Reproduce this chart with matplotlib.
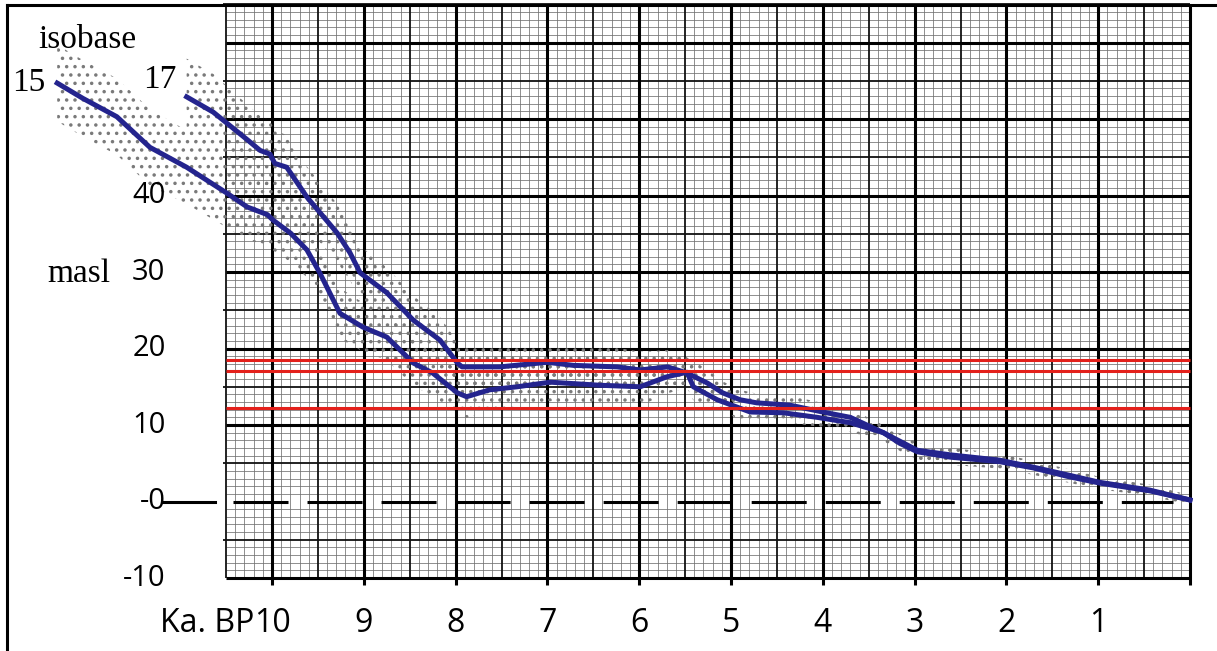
import numpy as np
import matplotlib
matplotlib.use("Agg")
import matplotlib.pyplot as plt
from matplotlib.lines import Line2D

plt.rcParams['lines.scale_dashes'] = False
plt.rcParams['hatch.linewidth'] = 1.3

# ==========================
# data (ka BP, metres above sea level)
# ==========================
age_15 = [12.34, 12.06, 11.69, 11.33, 10.93, 10.49, 10.27, 10.05, 9.99, 9.80,
          9.62, 9.48, 9.26, 9.01, 8.75, 8.46, 8.25, 7.98, 7.88, 7.63,
          7.33, 6.97, 6.43, 5.99, 5.70, 5.48, 5.41, 5.15, 4.79, 4.43,
          4.06, 3.70, 3.34, 3.16, 2.97, 2.61, 2.07, 1.71, 1.34, 0.98,
          0.44, 0.0]
masl_15 = [54.7, 52.7, 50.3, 46.3, 43.7, 40.3, 38.5, 37.5, 36.8, 35.1,
           32.9, 29.9, 24.6, 22.8, 21.5, 18.1, 16.8, 14.2, 13.7, 14.6,
           15.0, 15.6, 15.2, 15.0, 16.3, 16.9, 15.0, 13.3, 11.7, 11.6,
           11.0, 10.3, 9.0, 7.6, 6.5, 5.8, 5.2, 4.4, 3.3, 2.4,
           1.4, 0.2]
err_15 = [5.0, 5.0, 5.0, 5.0, 4.8, 4.5, 4.3, 4.0, 4.0, 3.8,
          3.6, 3.5, 3.3, 3.2, 3.0, 3.0, 3.0, 2.8, 2.8, 2.6,
          2.5, 2.5, 2.5, 2.5, 2.2, 2.0, 1.8, 1.5, 1.3, 1.2,
          1.2, 1.2, 1.1, 1.0, 1.0, 1.0, 0.9, 0.9, 0.8, 0.8,
          0.7, 0.6]

age_17 = [10.93, 10.64, 10.27, 10.13, 10.02, 9.97, 9.84, 9.62, 9.29, 9.15,
          9.04, 8.75, 8.46, 8.17, 7.98, 7.93, 7.52, 7.00, 6.72, 6.24,
          5.99, 5.69, 5.48, 5.26, 5.09, 4.90, 4.72, 4.36, 4.00, 3.70,
          3.34, 2.97, 2.61, 2.07, 1.71, 1.34, 0.98, 0.44, 0.0]
masl_17 = [52.9, 50.9, 47.3, 45.9, 45.4, 44.2, 43.7, 39.8, 35.1, 32.5,
           29.9, 27.3, 23.7, 21.1, 18.1, 17.6, 17.6, 18.2, 17.8, 17.6,
           17.2, 17.6, 16.8, 15.5, 14.2, 13.3, 12.9, 12.6, 11.7, 11.0,
           9.0, 6.7, 6.1, 5.4, 4.5, 3.5, 2.5, 1.5, 0.2]
err_17 = [5.0, 5.0, 4.6, 4.5, 4.4, 4.3, 4.2, 4.0, 3.8, 3.6,
          3.5, 3.3, 3.2, 3.0, 2.8, 2.6, 2.5, 2.5, 2.5, 2.5,
          2.4, 2.2, 2.0, 1.8, 1.5, 1.3, 1.2, 1.2, 1.2, 1.1,
          1.0, 1.0, 0.9, 0.9, 0.8, 0.8, 0.7, 0.7, 0.6]

red_levels = [18.5, 17.1, 12.2]

x_ticks = [10, 9, 8, 7, 6, 5, 4, 3, 2, 1]
y_ticks = [40, 30, 20, 10, 0, -10]
y_labels = ['40', '30', '20', '10', '-0', '-10']

# ==========================
# figure
# ==========================
fig = plt.figure(figsize=(12.17, 6.51), dpi=100)
ax = fig.add_axes([0, 0, 1, 1])
ax.set_xlim(12.963, -0.294)
ax.set_ylim(-19.54, 65.56)
ax.axis('off')

sans = 'Open Sans'
serif = 'Liberation Serif'

# graph paper: 0.1 ka x 1 m cells, heavier every 0.5 ka / 5 m and 1 ka / 10 m
# (the 0 m line is left out: the dashed zero level sits there)
gx_min, gx_max = 0.0, 10.5
gy_min, gy_max = -10, 65
minor_x = [k / 10 for k in range(0, 106) if k % 5 != 0]
mid_x = [k / 10 for k in range(0, 106) if k % 5 == 0 and k % 10 != 0]
major_x = [k / 10 for k in range(0, 106) if k % 10 == 0]
minor_y = [m for m in range(gy_min, gy_max + 1) if m % 5 != 0]
mid_y = [m for m in range(gy_min, gy_max + 1) if m % 5 == 0 and m % 10 != 0]
major_y = [m for m in range(gy_min, gy_max + 1) if m % 10 == 0 and m != 0]

ax.vlines(minor_x, gy_min, gy_max, color='#707070', lw=0.55, zorder=1)
ax.hlines(minor_y, gx_min, gx_max, color='#707070', lw=0.55, zorder=1)
ax.vlines(mid_x, gy_min, gy_max, color='#111111', lw=1.3, zorder=1.2)
ax.hlines(mid_y, gx_min, gx_max + 0.03, color='#111111', lw=1.3, zorder=1.2)
ax.vlines(major_x, gy_min - 0.9, gy_max, color='black', lw=2.2, zorder=1.4)
ax.hlines(major_y, gx_min, gx_max, color='black', lw=2.2, zorder=1.4)

# uncertainty bands (dotted)
for age, masl, err in [(age_15, masl_15, err_15), (age_17, masl_17, err_17)]:
    a = np.array(age)
    m = np.array(masl)
    e = np.array(err)
    ax.fill_between(a, m - e, m + e, facecolor='none', edgecolor='#7a7a7a',
                    hatch='..', linewidth=0, zorder=2)

# isobase curves
ax.plot(age_15, masl_15, color='#24248e', lw=3.6, solid_joinstyle='round', zorder=3)
ax.plot(age_17, masl_17, color='#24248e', lw=3.6, solid_joinstyle='round', zorder=3)

# red shoreline levels
ax.hlines(red_levels, gx_min, gx_max, color='#e3201b', lw=2.2, zorder=4)

# zero level
ax.plot([11.19, 10.62], [0, 0], color='black', lw=2.2, zorder=4)
ax.plot([10.42, 0.185], [0, 0], color='black', lw=2.2, dashes=(39.6, 13.7),
        dash_capstyle='butt', zorder=4)

# axis labels
for v, lab in zip(y_ticks, y_labels):
    ax.text(11.16, v, lab, ha='right', va='center', fontsize=21, family=sans)
for v in x_ticks:
    ax.text(v, -15.9, str(v), ha='center', va='center', fontsize=23, family=sans)
ax.text(10.196, -15.9, 'Ka. BP', ha='right', va='center', fontsize=23, family=sans)

ax.text(12.45, 28.7, 'masl', ha='left', va='baseline', fontsize=24, family=serif)
ax.text(12.549, 59.3, 'isobase', ha='left', va='baseline', fontsize=24, family=serif)
ax.text(12.832, 53.7, '15', ha='left', va='baseline', fontsize=24, family=serif)
ax.text(11.405, 54.05, '17', ha='left', va='baseline', fontsize=24, family=serif)

# outer frame (left and top)
fx = 7 / 1217
fy = 1 - 5 / 651
fig.add_artist(Line2D([fx, fx], [0, fy], color='black', lw=2.2, transform=fig.transFigure))
fig.add_artist(Line2D([fx, 1], [fy, fy], color='black', lw=2.2, transform=fig.transFigure))

fig.savefig('out.png', dpi=100, facecolor='white')
